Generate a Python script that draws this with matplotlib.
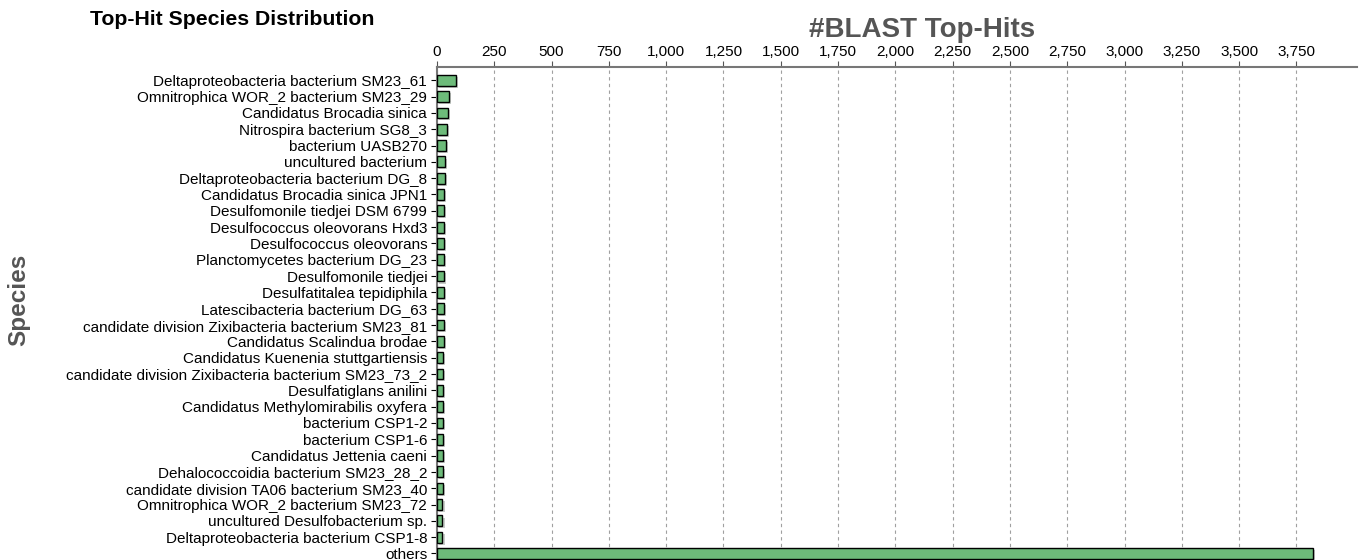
import matplotlib.pyplot as plt
import matplotlib.ticker as mticker
import matplotlib.patheffects as pe

species = [
    "Deltaproteobacteria bacterium SM23_61",
    "Omnitrophica WOR_2 bacterium SM23_29",
    "Candidatus Brocadia sinica",
    "Nitrospira bacterium SG8_3",
    "bacterium UASB270",
    "uncultured bacterium",
    "Deltaproteobacteria bacterium DG_8",
    "Candidatus Brocadia sinica JPN1",
    "Desulfomonile tiedjei DSM 6799",
    "Desulfococcus oleovorans Hxd3",
    "Desulfococcus oleovorans",
    "Planctomycetes bacterium DG_23",
    "Desulfomonile tiedjei",
    "Desulfatitalea tepidiphila",
    "Latescibacteria bacterium DG_63",
    "candidate division Zixibacteria bacterium SM23_81",
    "Candidatus Scalindua brodae",
    "Candidatus Kuenenia stuttgartiensis",
    "candidate division Zixibacteria bacterium SM23_73_2",
    "Desulfatiglans anilini",
    "Candidatus Methylomirabilis oxyfera",
    "bacterium CSP1-2",
    "bacterium CSP1-6",
    "Candidatus Jettenia caeni",
    "Dehalococcoidia bacterium SM23_28_2",
    "candidate division TA06 bacterium SM23_40",
    "Omnitrophica WOR_2 bacterium SM23_72",
    "uncultured Desulfobacterium sp.",
    "Deltaproteobacteria bacterium CSP1-8",
    "others",
]
hits = [81, 51, 48, 44, 41, 35, 35, 32, 32, 32, 32, 31,
        30, 30, 29, 29, 29, 28, 28, 28, 27, 26, 26, 25,
        25, 25, 24, 24, 24, 3820]

plt.rcParams['font.family'] = ['Liberation Sans', 'DejaVu Sans']

fig = plt.figure(figsize=(13.6, 5.6), dpi=100)
ax = fig.add_axes([0.3213, 0.0, 0.6765, 0.880])

y = list(range(len(species)))
bars = ax.barh(y, hits, height=0.66, color="#6dbb7a", edgecolor="black",
               linewidth=1.0, zorder=3)
for b in bars:
    b.set_path_effects([pe.SimplePatchShadow(offset=(1.5, -1.5), alpha=0.25),
                        pe.Normal()])

ax.set_ylim(len(species) - 1 + 0.4, -0.8)
ax.set_xlim(0, 4014)
ax.set_yticks(y)
ax.set_yticklabels(species, fontsize=11)

ax.xaxis.tick_top()
ax.set_xticks(range(0, 4000, 250))
ax.xaxis.set_major_formatter(mticker.FuncFormatter(lambda v, p: f"{int(v):,}"))
ax.tick_params(axis='x', labelsize=11, length=4, color="#555555", pad=2)
ax.tick_params(axis='y', length=4, pad=3)

ax.grid(axis='x', linestyle=(0, (3, 3)), color="#a0a0a0", linewidth=0.8, zorder=0)

for s in ['right', 'bottom']:
    ax.spines[s].set_visible(False)
ax.spines['top'].set_color("#777777")
ax.spines['top'].set_linewidth(1.5)
ax.spines['left'].set_color("#777777")
ax.spines['left'].set_linewidth(1.5)

fig.text(0.066, 0.965, "Top-Hit Species Distribution", fontsize=15.3,
         fontweight='bold', ha='left', va='center')
fig.text(0.678, 0.946, "#BLAST Top-Hits", fontsize=20, fontweight='bold',
         color="#555555", ha='center', va='center')
fig.text(0.014, 0.465, "Species", fontsize=17.5, fontweight='bold',
         color="#555555", rotation=90, ha='center', va='center')

fig.savefig("out.png", dpi=100)
